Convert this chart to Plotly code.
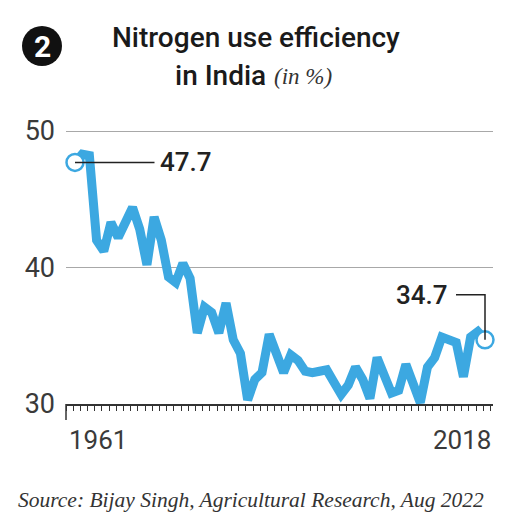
import plotly.graph_objects as go

# ---- data ----
years = list(range(1961, 2019))
nue_pct = [
    47.7, 48.3, 48.2, 42.0, 41.2, 43.3, 42.2, 43.3, 44.4, 42.8,   # 1961-1970
    40.2, 43.7, 42.0, 39.3, 38.9, 40.3, 39.2, 35.2, 37.1, 36.7,   # 1971-1980
    35.2, 37.4, 34.7, 33.7, 30.3, 31.8, 32.3, 35.1, 33.8, 32.3,   # 1981-1990
    33.6, 33.2, 32.4, 32.3, 32.4, 32.5, 31.6, 30.7, 31.4, 32.7,   # 1991-2000
    31.8, 30.4, 33.4, 32.0, 30.8, 31.0, 32.9, 31.5, 30.1, 32.7,   # 2001-2010
    33.4, 34.9, 34.7, 34.5, 32.0, 34.9, 35.3, 34.7,               # 2011-2018
]
first_label = "47.7"
last_label = "34.7"
y_ticks = [30, 40, 50]
x_labels = ["1961", "2018"]
title_line1 = "Nitrogen use efficiency"
title_line2 = "in India"
title_unit = "(in %)"
source_text = "Source: Bijay Singh, Agricultural Research, Aug 2022"

# ---- layout geometry ----
FW, FH = 517, 525
L, R, T, B = 66, 24, 124, 121
PW, PH = FW - L - R, FH - T - B

def px(x):
    return (x - L) / PW

def py(y):
    return (FH - B - y) / PH

BLUE = "#3CA8E1"
DARK = "#222222"
GREY_TXT = "#3a3a3a"

spacing = (485 - 75) / (years[-1] - years[0])
x_range = [years[0] - 9 / spacing, years[-1] + (493 - 485) / spacing]

fig = go.Figure()

fig.add_trace(go.Scatter(
    x=years, y=nue_pct, mode="lines",
    line=dict(color=BLUE, width=9),
    hoverinfo="skip", showlegend=False,
))

fig.add_trace(go.Scatter(
    x=[years[0], years[-1]], y=[nue_pct[0], nue_pct[-1]], mode="markers",
    marker=dict(size=17, color="white", line=dict(color=BLUE, width=2.5)),
    hoverinfo="skip", showlegend=False, cliponaxis=False,
))

shapes = []
# long first tick
shapes.append(dict(type="line", xref="paper", yref="paper",
                   x0=0, x1=0, y0=0, y1=-16 / PH,
                   line=dict(color="#333", width=1.5)))
# elbow leader for last value
elbow_y = nue_pct[-1] + 3.3
elbow_x = years[-1] - 29 / spacing
shapes.append(dict(type="path", xref="x", yref="y",
                   path=f"M {years[-1]},{nue_pct[-1]} L {years[-1]},{elbow_y} L {elbow_x},{elbow_y}",
                   line=dict(color=DARK, width=1.5)))
# badge circle
shapes.append(dict(type="circle", xref="paper", yref="paper",
                   xsizemode="pixel", ysizemode="pixel",
                   xanchor=px(42), yanchor=py(46),
                   x0=-20, x1=20, y0=-20, y1=20,
                   fillcolor="#111", line=dict(color="#111", width=0)))

annotations = []
# first value leader + text
annotations.append(dict(x=years[0], y=nue_pct[0], xref="x", yref="y",
                        text=first_label, showarrow=True, arrowhead=0,
                        arrowwidth=1.5, arrowcolor=DARK, ax=111, ay=0,
                        borderpad=5, standoff=0,
                        font=dict(family="Roboto", size=26, color=DARK, weight=500)))
# last value text
annotations.append(dict(x=elbow_x, y=elbow_y, xref="x", yref="y",
                        text=last_label, showarrow=False, xanchor="right",
                        yanchor="middle", xshift=-6,
                        font=dict(family="Roboto", size=26, color=DARK, weight=500)))
# x labels
annotations.append(dict(x=px(67), y=py(440), xref="paper", yref="paper",
                        text=x_labels[0], showarrow=False, xanchor="left", yanchor="middle",
                        font=dict(family="Roboto", size=26, color=GREY_TXT)))
annotations.append(dict(x=px(493), y=py(440), xref="paper", yref="paper",
                        text=x_labels[1], showarrow=False, xanchor="right", yanchor="middle",
                        font=dict(family="Roboto", size=26, color=GREY_TXT)))
# badge number
annotations.append(dict(x=px(42), y=py(46), xref="paper", yref="paper",
                        text="<b>2</b>", showarrow=False, xanchor="center", yanchor="middle",
                        font=dict(family="Roboto", size=30, color="white")))
# title
annotations.append(dict(x=px(256), y=py(37), xref="paper", yref="paper",
                        text=title_line1, showarrow=False, xanchor="center", yanchor="middle",
                        font=dict(family="Roboto", size=28, color="#1a1a1a", weight=500)))
annotations.append(dict(x=px(268), y=py(76), xref="paper", yref="paper",
                        text=title_line2, showarrow=False, xanchor="right", yanchor="middle",
                        font=dict(family="Roboto", size=28, color="#1a1a1a", weight=500)))
annotations.append(dict(x=px(272), y=py(77), xref="paper", yref="paper",
                        text="<i>" + title_unit + "</i>", showarrow=False, xanchor="left", yanchor="middle",
                        font=dict(family="Liberation Serif", size=23, color="#333")))
# source
annotations.append(dict(x=px(16), y=py(500), xref="paper", yref="paper",
                        text="<i>" + source_text + "</i>", showarrow=False,
                        xanchor="left", yanchor="middle",
                        font=dict(family="Liberation Serif", size=21.5, color="#333")))

fig.update_layout(
    width=FW, height=FH,
    margin=dict(l=L, r=R, t=T, b=B, pad=0),
    paper_bgcolor="white", plot_bgcolor="white",
    shapes=shapes, annotations=annotations,
    xaxis=dict(range=x_range, showgrid=False, zeroline=False,
               showline=True, linecolor="#333", linewidth=1.5,
               ticks="outside", ticklen=5, tickwidth=1.2, tickcolor="#333",
               tick0=x_range[0], dtick=1, showticklabels=False),
    yaxis=dict(range=[30, 50 + 7 / 13.65], tickvals=y_ticks,
               ticktext=[str(v) for v in y_ticks],
               showgrid=True, gridcolor="#a8a8a8", gridwidth=1.3,
               zeroline=False, showline=False, ticks="",
               ticklabelstandoff=10,
               tickfont=dict(family="Roboto", size=27, color=GREY_TXT)),
)

fig.write_html("out.html", config={"displayModeBar": False},
               post_script="document.body.style.margin='0';document.body.style.overflow='hidden';")
